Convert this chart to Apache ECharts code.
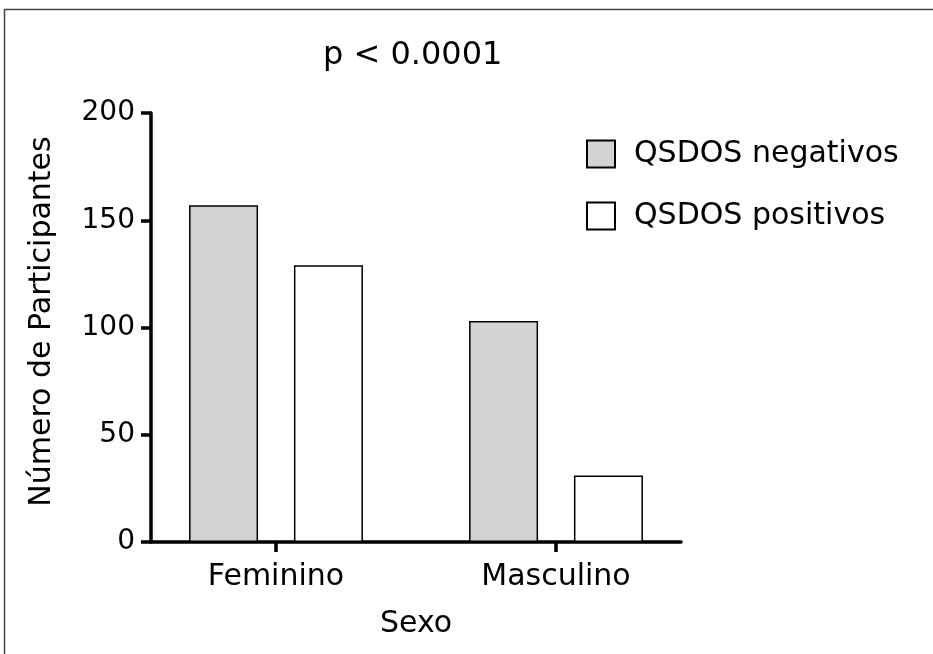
<!DOCTYPE html>
<html>
<head>
<meta charset="utf-8">
<style>
html,body{margin:0;padding:0;background:#fff;}
#chart{width:933px;height:654px;}
</style>
<script src="https://cdn.jsdelivr.net/npm/echarts@6/dist/echarts.min.js"></script>
</head>
<body>
<div id="chart"></div>
<script>
var categories = ['Feminino', 'Masculino'];
var seriesNames = ['QSDOS negativos', 'QSDOS positivos'];
var negativos = [157, 103];
var positivos = [129, 31];
var yTicks = [0, 50, 100, 150, 200];

var FONT = 'DejaVu Sans';
var chart = echarts.init(document.getElementById('chart'));

function pairs(arr) {
  return arr.map(function (v, i) { return [i, v]; });
}

chart.setOption({
  animation: false,
  backgroundColor: '#ffffff',
  graphic: [{
    type: 'rect',
    shape: { x: 4.5, y: 9.5, width: 1000, height: 1000 },
    style: { fill: 'none', stroke: '#444444', lineWidth: 1.5 },
    silent: true
  }],
  title: {
    text: 'p < 0.0001',
    left: 318,
    top: 35,
    textStyle: { fontFamily: FONT, fontSize: 32, fontWeight: 'normal', color: '#000' }
  },
  legend: {
    orient: 'vertical',
    left: 581,
    top: 134,
    itemWidth: 28,
    itemHeight: 27,
    itemGap: 32,
    icon: 'rect',
    data: seriesNames,
    textStyle: { fontFamily: FONT, fontSize: 30, color: '#000', lineHeight: 30, padding: [0, 0, 0, 14] }
  },
  grid: { left: 151, top: 113, width: 530, height: 429, containLabel: false },
  xAxis: {
    type: 'value',
    min: -0.4464,
    max: 1.4464,
    splitLine: { show: false },
    axisLine: { show: true, lineStyle: { color: '#000', width: 3.5 } },
    axisTick: { show: true, length: 10, customValues: [0, 1], lineStyle: { color: '#000', width: 3.5 } },
    axisLabel: {
      show: true,
      customValues: [0, 1],
      margin: 20,
      fontFamily: FONT, fontSize: 30, color: '#000',
      formatter: function (v) { return categories[Math.round(v)] || ''; }
    },
    name: 'Sexo',
    nameLocation: 'middle',
    nameGap: 67,
    nameTextStyle: { fontFamily: FONT, fontSize: 30, color: '#000' }
  },
  yAxis: {
    type: 'value',
    min: yTicks[0],
    max: yTicks[yTicks.length - 1],
    interval: 50,
    splitLine: { show: false },
    axisLine: { show: true, onZero: false, lineStyle: { color: '#000', width: 3.5 } },
    axisTick: { show: true, length: 10, lineStyle: { color: '#000', width: 3.5 } },
    axisLabel: { margin: 16, fontFamily: FONT, fontSize: 28, color: '#000' },
    name: 'Número de Participantes',
    nameLocation: 'middle',
    nameGap: 94,
    nameTextStyle: { fontFamily: FONT, fontSize: 30, color: '#000', padding: [0, 0, 0, 12] }
  },
  series: [{
    name: seriesNames[0],
    type: 'bar',
    barWidth: 69,
    barGap: '52%',
    data: pairs(negativos),
    itemStyle: { color: '#d3d3d3', borderColor: '#000', borderWidth: 1.5 }
  }, {
    name: seriesNames[1],
    type: 'bar',
    barWidth: 69,
    barGap: '52%',
    data: pairs(positivos),
    itemStyle: { color: '#ffffff', borderColor: '#000', borderWidth: 1.5 }
  }]
});
</script>
</body>
</html>
